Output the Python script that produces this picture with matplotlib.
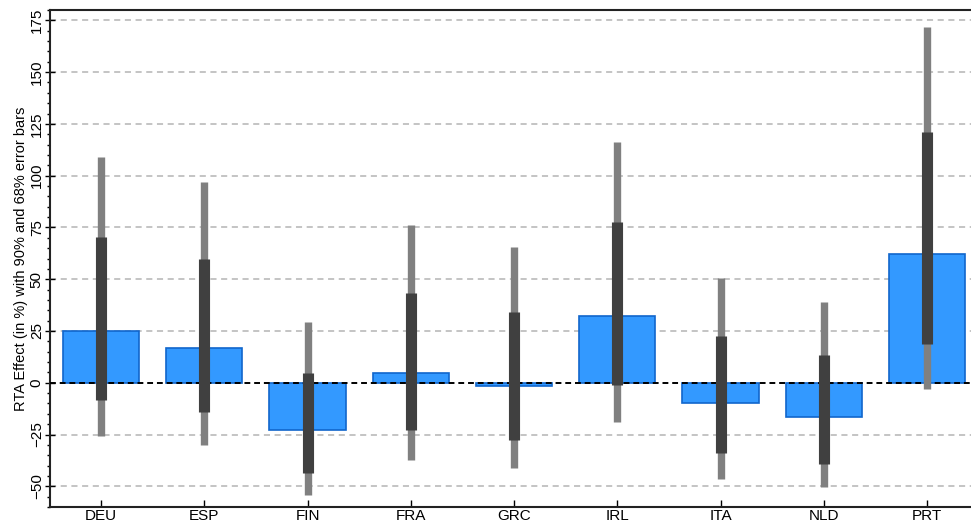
import numpy as np
import matplotlib
matplotlib.use("Agg")
import matplotlib.pyplot as plt
from matplotlib.ticker import MultipleLocator

plt.rcParams['font.family'] = ['Liberation Sans', 'DejaVu Sans']

# data
countries = ["DEU", "ESP", "FIN", "FRA", "GRC", "IRL", "ITA", "NLD", "PRT"]
effect = [24.8, 16.9, -22.6, 4.8, -1.4, 32.3, -10.0, -16.7, 62.0]
ci68_low = [-8.4, -14.0, -43.6, -22.9, -27.8, -1.3, -33.9, -39.1, 18.9]
ci68_high = [70.2, 60.0, 4.8, 43.2, 34.4, 77.5, 22.6, 13.2, 121.1]
ci90_low = [-25.5, -29.9, -54.1, -37.5, -41.2, -18.9, -46.3, -50.4, -3.2]
ci90_high = [109.0, 96.9, 29.1, 76.2, 65.4, 116.2, 50.8, 39.2, 171.9]

fig = plt.figure(figsize=(9.71, 5.27), dpi=100)
ax = fig.add_axes([50 / 971, 1 - 507 / 527, 1 - 50 / 971, 497 / 527])

x = np.arange(len(countries))

# grid lines first, behind everything
for yv in range(-50, 176, 25):
    if yv == 0:
        continue
    ax.axhline(yv, color="#b4b4b4", lw=1.1, ls=(0, (4, 3)), zorder=0)

ax.bar(x, effect, width=0.74, color="#3399ff", edgecolor="#1166cc",
       linewidth=1.2, zorder=2)
ax.axhline(0, color="black", lw=1.4, ls=(0, (3, 2)), zorder=3)

ax.vlines(x, ci90_low, ci90_high, color="#808080", lw=5.3,
          capstyle="butt", zorder=4)
ax.vlines(x, ci68_low, ci68_high, color="#404040", lw=8.0,
          capstyle="butt", zorder=5)

ax.set_xlim(-0.494, 8.426)
ax.set_ylim(-60, 180)
ax.set_xticks(x)
ax.set_xticklabels(countries, fontsize=11)
ax.yaxis.set_major_locator(MultipleLocator(25))
ax.yaxis.set_minor_locator(MultipleLocator(5))
ax.tick_params(axis="y", which="major", direction="inout", length=7,
               width=1, labelsize=11, pad=1)
ax.tick_params(axis="y", which="minor", direction="out", length=2.5, width=1)
ax.tick_params(axis="x", direction="in", length=5, width=1, pad=1.5)
for lab in ax.get_yticklabels():
    lab.set_rotation(90)
    lab.set_va("center")

ax.set_ylabel("RTA Effect (in %) with 90% and 68% error bars", fontsize=10.5,
              labelpad=1)

for side in ["left", "bottom", "top"]:
    ax.spines[side].set_linewidth(1.5)
    ax.spines[side].set_color("#222222")
ax.spines["right"].set_visible(False)

fig.savefig("out.png", dpi=100)
